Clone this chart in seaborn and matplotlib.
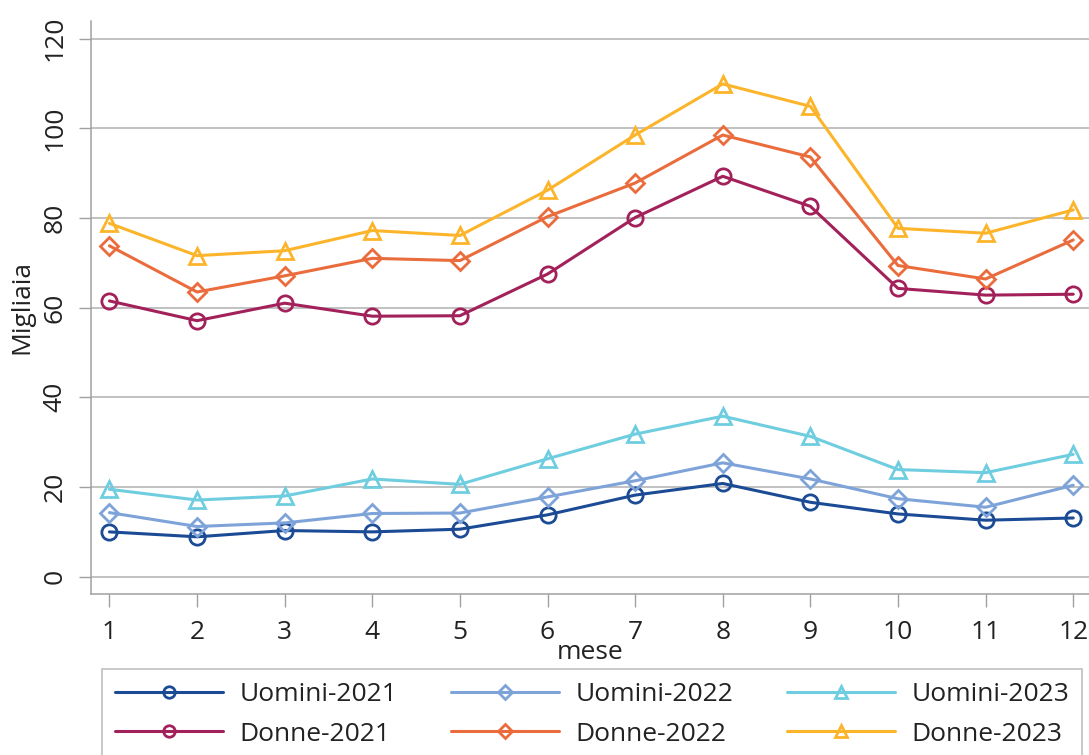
import matplotlib
matplotlib.use("Agg")
import matplotlib.pyplot as plt
import seaborn as sns
import pandas as pd

mesi = list(range(1, 13))

uomini_2021 = [10.0, 8.9, 10.3, 10.0, 10.6, 13.8, 18.2, 20.8, 16.6, 14.0, 12.6, 13.1]
uomini_2022 = [14.3, 11.2, 12.0, 14.1, 14.2, 17.8, 21.4, 25.4, 21.8, 17.4, 15.5, 20.4]
uomini_2023 = [19.5, 17.1, 18.0, 21.8, 20.6, 26.3, 31.8, 35.8, 31.3, 23.9, 23.2, 27.3]
donne_2021 = [61.5, 57.1, 61.0, 58.1, 58.2, 67.5, 80.1, 89.3, 82.6, 64.3, 62.8, 63.0]
donne_2022 = [73.8, 63.5, 67.1, 71.0, 70.5, 80.3, 87.8, 98.5, 93.6, 69.4, 66.4, 75.1]
donne_2023 = [78.8, 71.6, 72.7, 77.2, 76.1, 86.2, 98.5, 109.9, 104.9, 77.7, 76.6, 81.8]

serie = {
    "Uomini-2021": (uomini_2021, "#1b4b94", "o"),
    "Uomini-2022": (uomini_2022, "#7ea3d9", "D"),
    "Uomini-2023": (uomini_2023, "#6fcde0", "^"),
    "Donne-2021": (donne_2021, "#a3215a", "o"),
    "Donne-2022": (donne_2022, "#ea6c3c", "D"),
    "Donne-2023": (donne_2023, "#fcb52b", "^"),
}

sns.set_style("white")
plt.rcParams["font.family"] = ["Open Sans", "DejaVu Sans"]

fig = plt.figure(figsize=(10.89, 7.55), dpi=100)
ax = fig.add_axes([0.0836, 0.2132, 0.9164, 0.7594])

for nome, (valori, colore, marker) in serie.items():
    df = pd.DataFrame({"mese": mesi, "valore": valori})
    ms = 9 if marker == "D" else 11
    sns.lineplot(data=df, x="mese", y="valore", ax=ax, label=nome, color=colore,
                 linewidth=2.2, marker=marker, markersize=ms, markerfacecolor="none",
                 markeredgecolor=colore, markeredgewidth=2, errorbar=None)

ax.set_xlim(0.79, 12.18)
ax.set_ylim(-3.86, 124)
ax.set_xticks(mesi)
ax.set_yticks([0, 20, 40, 60, 80, 100, 120])
ax.grid(axis="y", color="#b0b0b0", linewidth=1.1)
ax.grid(axis="x", visible=False)
for s in ["top", "right"]:
    ax.spines[s].set_visible(False)
for s in ["left", "bottom"]:
    ax.spines[s].set_color("#a0a0a0")
    ax.spines[s].set_linewidth(1.1)

ax.tick_params(axis="x", bottom=True, length=9, width=1, color="#a0a0a0",
               labelsize=19, pad=10, labelcolor="#222222")
ax.tick_params(axis="y", left=True, length=9, width=1, color="#a0a0a0",
               labelsize=19, pad=8, labelcolor="#222222")
for lab in ax.get_yticklabels():
    lab.set_rotation(90)
    lab.set_va("center")

ax.set_xlabel("mese", fontsize=19, labelpad=-4, color="#222222")
ax.set_ylabel("Migliaia", fontsize=19, labelpad=6, color="#222222")

handles, labels = ax.get_legend_handles_labels()
ax.get_legend().remove()
ordine = [0, 3, 1, 4, 2, 5]
leg = fig.legend([handles[i] for i in ordine], [labels[i] for i in ordine],
                 loc="upper left", bbox_to_anchor=(0.0937, 0.114, 0.9, 0.0),
                 mode="expand", ncol=3, fontsize=19, frameon=True, fancybox=False,
                 edgecolor="#b0b0b0", handlelength=4.1, handletextpad=0.6,
                 markerscale=0.75, labelspacing=0.55, borderaxespad=0,
                 borderpad=0.5)
leg.get_frame().set_linewidth(1.2)
for t in leg.get_texts():
    t.set_color("#222222")

fig.savefig("out.png", dpi=100)
